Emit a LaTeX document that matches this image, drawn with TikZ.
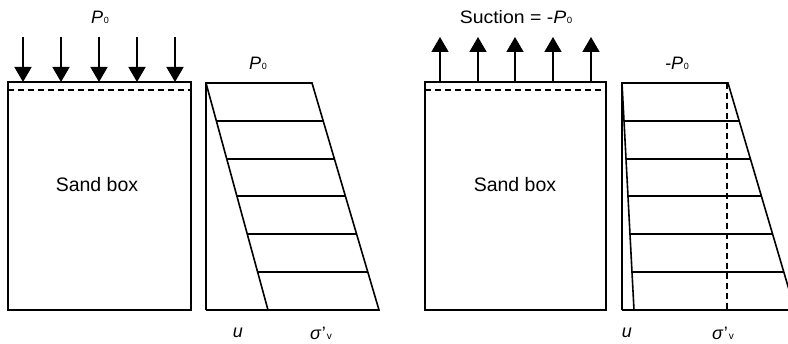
\documentclass[tikz,border=0pt]{standalone}
\usepackage{fontspec}
\setmainfont{Liberation Sans}
\usetikzlibrary{arrows.meta}
\newcommand{\Pz}{\textit{P}\kern0.5pt{\fontsize{9}{9}\selectfont 0}}
\newcommand{\sigv}{\textit{σ}\kern0.3pt'\kern0.8pt{\fontsize{10}{10}\selectfont v}}
\begin{document}
\begin{tikzpicture}[x=1pt,y=-1pt,
  line/.style={line width=1.6pt},
  dashline/.style={line width=1.6pt,dash pattern=on 6pt off 4pt},
  load/.style={line width=1.6pt,-{Triangle[length=15pt,width=17pt]}},
  lbl/.style={font=\fontsize{18}{18}\selectfont,inner sep=0pt},
  big/.style={font=\fontsize{19.5}{19.5}\selectfont,inner sep=0pt}]
\useasboundingbox (0,0) rectangle (788,344);
\clip (0,0) rectangle (788,344);
\fill[white] (0,0) rectangle (788,344);
% ---------- left sand box ----------
\draw[line] (8,82) rectangle (191,310);
\draw[dashline] (8,90) -- (191,90);
\foreach \x in {23,61,99,137,175}{
  \coordinate (a\x) at (\x,37);
  \coordinate (b\x) at (\x,82);
  \draw[load] (a\x) -- (b\x);
}
\node[lbl] (p0a) at (100,17) {\Pz};
\node[big] (sb1) at (97,185) {Sand box};
% ---------- left chart ----------
\coordinate (lt) at (206,83);
\coordinate (lb) at (206,310);
\coordinate (lr) at (312,83);
\coordinate (lu) at (268,310);
\coordinate (ls) at (379,310);
\draw[line] (lb) -- (lt) -- (lr) -- (ls) -- (lb);
\draw[line] (lt) -- (lu);
\foreach \yy in {121,159,196,234,272}{
  \pgfmathsetmacro{\xu}{206+62*(\yy-83)/227}
  \pgfmathsetmacro{\xs}{312+67*(\yy-83)/227}
  \draw[line] (\xu,\yy) -- (\xs,\yy);
}
\node[lbl] (p0b) at (258,63) {\Pz};
\node[lbl] (u1) at (238,333) {\textit{u}};
\node[lbl] (s1) at (321,333) {\sigv};
% ---------- right sand box ----------
\draw[line] (425,82) rectangle (606,310);
\draw[dashline] (425,90) -- (606,90);
\foreach \x in {440,478,515,553,591}{
  \coordinate (c\x) at (\x,82);
  \coordinate (d\x) at (\x,37);
  \draw[load] (c\x) -- (d\x);
}
\node[lbl,xscale=1.08] (suc) at (516,17) {Suction = -\Pz};
\node[big] (sb2) at (515,185) {Sand box};
% ---------- right chart ----------
\coordinate (rt) at (622,83);
\coordinate (rb) at (622,310);
\coordinate (rr) at (728,83);
\coordinate (ru) at (634,310);
\coordinate (rs) at (795,310);
\draw[line] (rb) -- (rt) -- (rr) -- (rs) -- (rb);
\draw[line] (rt) -- (ru);
\draw[dashline] (727,83) -- (727,310);
\foreach \yy in {121,159,196,234,272}{
  \pgfmathsetmacro{\xu}{622+12*(\yy-83)/227}
  \pgfmathsetmacro{\xs}{728+67*(\yy-83)/227}
  \draw[line] (\xu,\yy) -- (\xs,\yy);
}
\node[lbl] (p0c) at (677,63) {-\Pz};
\node[lbl] (u2) at (627,333) {\textit{u}};
\node[lbl] (s2) at (723,333) {\sigv};
\end{tikzpicture}
\end{document}
